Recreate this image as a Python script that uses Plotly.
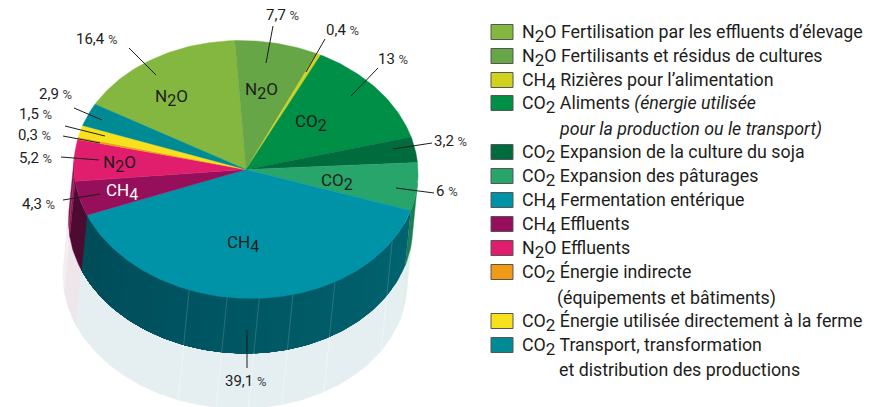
import math
import plotly.graph_objects as go

# ---------- data ----------
gases = ["N2O", "N2O", "CH4", "CO2", "CO2", "CO2", "CH4", "CH4", "N2O", "CO2", "CO2", "CO2"]
categories = [
    "Fertilisation par les effluents d’élevage",
    "Fertilisants et résidus de cultures",
    "Rizières pour l’alimentation",
    "Aliments <i>(énergie utilisée</i>",
    "Expansion de la culture du soja",
    "Expansion des pâturages",
    "Fermentation entérique",
    "Effluents",
    "Effluents",
    "Énergie indirecte",
    "Énergie utilisée directement à la ferme",
    "Transport, transformation",
]
continuations = {3: "<i>pour la production ou le transport)</i>",
                 9: "(équipements et bâtiments)",
                 11: "et distribution des productions"}
values = [16.4, 7.7, 0.4, 13, 3.2, 6, 39.1, 4.3, 5.2, 0.3, 1.5, 2.9]
value_labels = ["16,4", "7,7", "0,4", "13", "3,2", "6", "39,1", "4,3", "5,2", "0,3", "1,5", "2,9"]
colors = ["#84b73f", "#66a647", "#cfd21f", "#008f47", "#006b3c", "#27a56b",
          "#0093a7", "#960f5a", "#e11e6e", "#f09a1a", "#f7e11c", "#008a94"]
wall_colors = {5: "#1a7f52", 7: "#4e0b32", 8: "#8c1150"}
ghost_colors = {5: "#e2efe9", 6: "#e5eef0", 7: "#efe6ec", 8: "#f4eaef"}
wall_seams = [201.0, 188.0, 177.3, 165.9, 150.6, 123.5]

# ---------- geometry of the projected pie ----------
FONT = "Roboto"
CX, CY, RX, RY = 246.0, 169.5, 172.0, 129.0
DX, DY = -5.5, 55.0
SHEAR = 0.04
START = 300.4
VIS_A, VIS_B = 96.0, 276.0


def warp(t):
    """slight perspective compression of the far side of the disc"""
    d = ((t - 8 + 180) % 360) - 180
    if abs(d) < 66:
        return t - 1.5 * math.cos(math.radians(90 * d / 66)) ** 2
    return t


def pt(t, k=0.0):
    r = math.radians(warp(t))
    dy = -RY * math.cos(r)
    return CX + RX * math.sin(r) + SHEAR * dy + k * DX, CY + dy + k * DY


def arc(a, b, k=0.0, n=None):
    n = n or max(2, int(abs(b - a)) + 2)
    return [pt(a + (b - a) * i / (n - 1), k) for i in range(n)]


def poly(points, color, name, lw=0.4):
    xs = [p[0] for p in points] + [points[0][0]]
    ys = [p[1] for p in points] + [points[0][1]]
    return go.Scatter(x=xs, y=ys, mode="lines", fill="toself", fillcolor=color,
                      line=dict(color=color, width=lw), hoverinfo="skip",
                      showlegend=False, name=name)


def mix(c1, c2, f):
    a = [int(c1[i:i + 2], 16) for i in (1, 3, 5)]
    b = [int(c2[i:i + 2], 16) for i in (1, 3, 5)]
    return "#%02x%02x%02x" % tuple(round(a[i] + (b[i] - a[i]) * f) for i in range(3))


spans = []
cum = START
for v in values:
    spans.append((cum, cum + v * 3.6))
    cum += v * 3.6

fig = go.Figure()

# reflection, walls
for i, (a, b) in enumerate(spans):
    for off in (0, 360):
        lo, hi = max(a - off, VIS_A), min(b - off, VIS_B)
        if hi > lo and i in ghost_colors:
            fig.add_trace(poly(arc(lo, hi, 1) + arc(hi, lo, 2), ghost_colors[i], "reflet"))
for i, (a, b) in enumerate(spans):
    for off in (0, 360):
        lo, hi = max(a - off, VIS_A), min(b - off, VIS_B)
        if hi <= lo:
            continue
        if i == 6:
            # gradient: each strip runs on to the end, the next paints over it
            strips = 24
            for s in range(strips):
                s0 = lo + (hi - lo) * s / strips
                fig.add_trace(poly(arc(s0, hi, 0) + arc(hi, s0, 1),
                                   mix("#00636f", "#004c59", s / (strips - 1)), "paroi", lw=0))
        else:
            fig.add_trace(poly(arc(lo, hi, 0) + arc(hi, lo, 1), wall_colors[i], "paroi"))

# seams on the wall and its reflection
for t in wall_seams + [268.0]:
    p0, p1, p2 = pt(t, 0), pt(t, 1), pt(t, 2)
    fig.add_trace(go.Scatter(x=[p0[0], p1[0]], y=[p0[1], p1[1]], mode="lines",
                             line=dict(color="rgba(255,255,255,0.2)", width=0.8), hoverinfo="skip", showlegend=False))
    fig.add_trace(go.Scatter(x=[p1[0], p2[0]], y=[p1[1], p2[1]], mode="lines",
                             line=dict(color="rgba(255,255,255,0.5)", width=0.8), hoverinfo="skip", showlegend=False))

# top slices
for i, (a, b) in enumerate(spans):
    fig.add_trace(poly([(CX, CY)] + arc(a, b), colors[i], categories[i]))

annotations = []
shapes = []


def sub(g, size=16):
    d = f'<sub><span style="font-size:{size}px">{g[1] if g != "CH4" and g != "CO2" else g[2]}</span></sub>'
    return {"N2O": f"N{d}O", "CO2": f"CO{d}", "CH4": f"CH{d}"}[g]


def note(x, y, text, size=15, color="#1d1d1b", anchor="center"):
    annotations.append(dict(x=x, y=y, xref="x", yref="y", text=text, showarrow=False,
                            xanchor=anchor, yanchor="middle",
                            font=dict(family=FONT, size=size, color=color)))


# value labels and leader lines
label_pos = [(97, 39), (282, 15), (342, 30), (393, 59), (450, 141), (447, 191),
             (246, 381), (38, 204), (35, 158), (34, 135), (35, 114), (55, 94)]
leaders = [((129, 48), (156, 75)), ((273, 26), (266, 63)), ((325, 39), (306, 72)),
           ((378, 68), (351, 96)), ((432, 143), (393, 149)), ((434, 193), (396, 188)),
           ((247, 330), (247, 368)), ((63, 200), (100, 194)), ((61, 157), (99, 160)),
           ((63, 136), (100, 143)), ((65, 126), (105, 136)), ((74, 108), (102, 120))]
for lab, pos, (p, q) in zip(value_labels, label_pos, leaders):
    note(pos[0], pos[1], f'{lab} <span style="font-size:13px;color:#444">%</span>', size=15)
    shapes.append(dict(type="line", xref="x", yref="y", x0=p[0], y0=p[1], x1=q[0], y1=q[1],
                       line=dict(color="#1d1d1b", width=1)))

# gas labels inside slices
for g, x, y, c in [("N2O", 171, 98, "#1d1d1b"), ("N2O", 261, 91, "#1d1d1b"), ("CO2", 311, 123, "#1d1d1b"),
                   ("CO2", 337, 182, "#1d1d1b"), ("CH4", 243, 244, "#1d1d1b"), ("N2O", 119, 164, "#1d1d1b"),
                   ("CH4", 122, 192, "#ffffff")]:
    note(x, y, sub(g, 16), size=17, color=c)

# legend
row_y = [32, 56, 80, 103, 152, 176, 200, 224, 248, 272, 321, 345]
cont_y = {3: 128, 9: 297, 11: 368}
for i, (g, cat, y) in enumerate(zip(gases, categories, row_y)):
    shapes.append(dict(type="rect", xref="x", yref="y", x0=491, x1=513, y0=y - 7.5, y1=y + 7.5,
                       fillcolor=colors[i], line=dict(color="#555", width=1)))
    note(520, y + 1.5, f"{sub(g, 17)} {cat}", size=17.8, anchor="left")
    if i in continuations:
        note(557 if i != 9 else 555, cont_y[i] + 1, continuations[i], size=17.8, anchor="left")

fig.update_layout(
    width=872, height=407, margin=dict(l=0, r=0, t=0, b=0),
    paper_bgcolor="white", plot_bgcolor="white", showlegend=False,
    xaxis=dict(range=[0, 872], visible=False, fixedrange=True),
    yaxis=dict(range=[407, 0], visible=False, fixedrange=True),
    annotations=annotations, shapes=shapes,
)
fig.write_html("out.html", config={"displayModeBar": False},
               post_script="document.body.style.margin='0';")
